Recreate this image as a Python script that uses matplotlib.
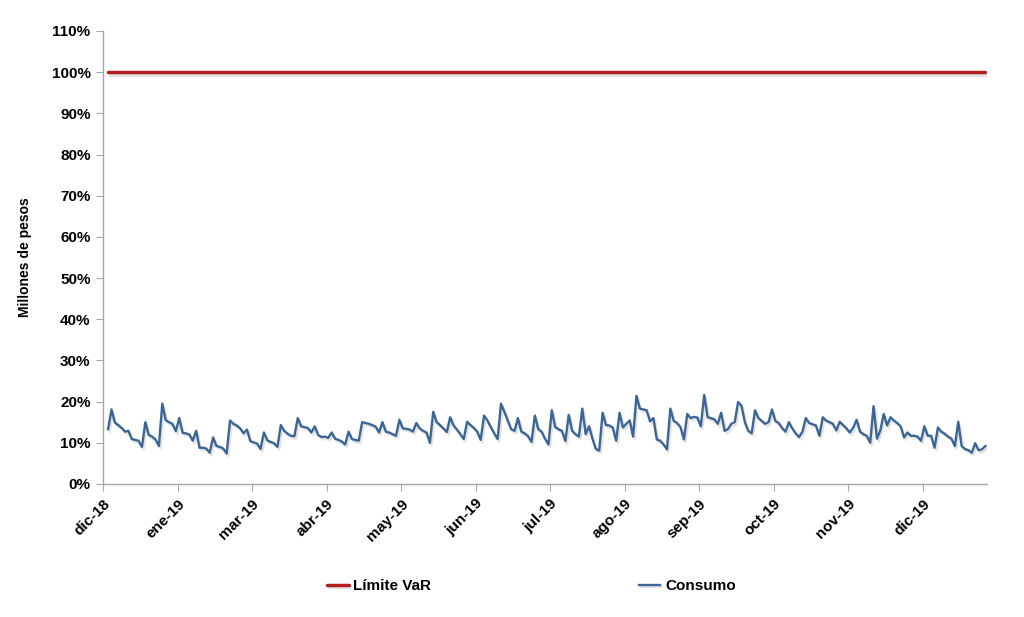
import matplotlib
matplotlib.use("Agg")
import matplotlib.pyplot as plt
import matplotlib.patheffects as pe
import numpy as np

plt.rcParams['font.family'] = ['Liberation Sans', 'DejaVu Sans']

# consumo diario (% del limite)
consumo = [
    13.3, 18.1, 14.9, 14.3, 13.6, 12.7, 12.9, 10.9, 10.7, 10.5,
    9.0, 15.0, 11.9, 11.5, 10.8, 9.2, 19.5, 15.5, 15.0, 14.6,
    12.8, 16.0, 12.4, 12.3, 12.0, 10.5, 12.9, 8.8, 8.8, 8.6,
    7.6, 11.3, 9.2, 9.0, 8.6, 7.4, 15.4, 14.6, 14.2, 13.5,
    12.3, 13.2, 10.4, 10.1, 9.8, 8.5, 12.5, 10.6, 10.2, 9.9,
    9.0, 14.3, 12.9, 12.2, 11.7, 11.6, 16.0, 14.0, 13.8, 13.6,
    12.5, 14.0, 11.9, 11.4, 11.5, 11.2, 12.5, 11.0, 10.7, 10.3,
    9.6, 12.7, 10.9, 10.7, 10.5, 15.0, 14.8, 14.6, 14.3, 13.9,
    12.5, 15.0, 12.7, 12.5, 12.1, 11.7, 15.6, 13.5, 13.4, 13.2,
    12.7, 14.8, 13.5, 12.9, 12.5, 10.0, 17.5, 15.0, 14.3, 13.5,
    12.6, 16.2, 14.2, 13.2, 12.1, 10.9, 15.1, 14.3, 13.6, 12.7,
    10.7, 16.6, 15.4, 13.8, 12.3, 10.9, 19.5, 17.5, 15.4, 13.3,
    12.9, 16.0, 12.7, 12.3, 11.6, 10.2, 16.6, 13.3, 12.7, 11.0,
    9.6, 17.9, 13.8, 13.3, 12.9, 10.4, 16.8, 12.9, 12.1, 11.5,
    18.3, 12.1, 14.0, 11.0, 8.5, 8.1, 17.3, 14.3, 14.2, 13.7,
    10.5, 17.3, 13.7, 14.6, 15.4, 11.5, 21.4, 18.3, 18.1, 17.9,
    15.2, 16.0, 10.8, 10.5, 9.6, 8.4, 18.3, 15.3, 14.8, 13.8,
    10.8, 17.0, 16.0, 16.3, 16.1, 14.0, 21.6, 16.2, 16.0, 15.7,
    14.6, 17.3, 12.9, 13.3, 14.6, 15.0, 19.9, 19.0, 15.0, 12.9,
    12.3, 17.9, 16.0, 15.3, 14.6, 15.0, 18.1, 15.3, 14.8, 13.6,
    12.7, 15.0, 13.5, 12.3, 11.4, 12.7, 16.0, 14.8, 14.5, 14.2,
    11.7, 16.2, 15.4, 15.0, 14.6, 13.0, 15.1, 14.3, 13.5, 12.5,
    13.7, 15.6, 12.7, 12.1, 11.7, 10.0, 18.9, 11.0, 13.0, 17.0,
    14.2, 16.2, 15.4, 14.8, 14.0, 11.3, 12.5, 11.7, 11.7, 11.5,
    10.5, 14.0, 11.7, 11.7, 8.8, 13.7, 12.7, 12.2, 11.5, 11.0,
    9.2, 15.1, 9.2, 8.5, 8.2, 7.6, 9.9, 8.2, 8.4, 9.2,
]
limite = [100.0] * len(consumo)

mes_labels = ['dic-18', 'ene-19', 'mar-19', 'abr-19', 'may-19', 'jun-19',
              'jul-19', 'ago-19', 'sep-19', 'oct-19', 'nov-19', 'dic-19']
paso = 22  # dias habiles entre etiquetas

x = np.arange(1, len(consumo) + 1)

fig = plt.figure(figsize=(10.24, 6.17), dpi=100)
ax = fig.add_axes([0.1006, 0.2156, 0.8633, 0.7342])

sombra = [pe.SimpleLineShadow(offset=(1.2, -1.8), shadow_color='gray', alpha=0.22),
          pe.Normal()]
ax.plot(x, limite, color='#B41E1E', lw=2.5, solid_capstyle='round',
        label='Límite VaR', path_effects=sombra)
ax.plot(x, consumo, color='#3A6596', lw=1.7, solid_joinstyle='round',
        label='Consumo', path_effects=sombra)

ax.set_xlim(-0.5, len(consumo) + 0.5)
ax.set_ylim(0, 110)
ax.set_yticks(np.arange(0, 111, 10))
ax.set_yticklabels([f'{v}%' for v in range(0, 111, 10)], fontweight='bold', fontsize=11)
ax.set_xticks([-0.5 + paso * k for k in range(len(mes_labels))])
ax.set_xticklabels(mes_labels, rotation=45, ha='right', rotation_mode='anchor',
                   fontweight='bold', fontsize=11)

for s in ['top', 'right']:
    ax.spines[s].set_visible(False)
for s in ['left', 'bottom']:
    ax.spines[s].set_color('#a6a6a6')
    ax.spines[s].set_linewidth(1.0)
ax.tick_params(axis='both', direction='out', length=5, color='#a6a6a6', pad=4)

ax.set_ylabel('Millones de pesos', fontweight='bold', fontsize=10, labelpad=14)

fig.legend(loc='center', bbox_to_anchor=(0.519, 0.05), ncol=2, frameon=False,
           prop={'weight': 'bold', 'size': 11}, handlelength=1.4,
           handletextpad=0.3, columnspacing=13.6)

fig.savefig('out.png', dpi=100)
